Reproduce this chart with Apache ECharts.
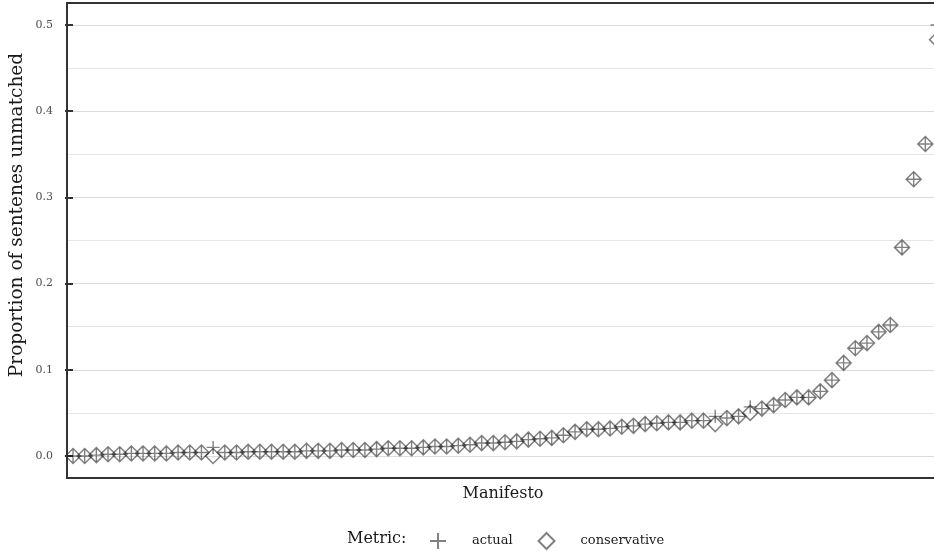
<!DOCTYPE html>
<html>
<head>
<meta charset="utf-8">
<script src="https://cdn.jsdelivr.net/npm/echarts@6/dist/echarts.min.js"></script>
<style>
  html, body { margin: 0; padding: 0; background: #ffffff; }
  #chart { width: 934px; height: 551px; }
</style>
</head>
<body>
<div id="chart"></div>
<script>
// Manifestos, ordered by share of unmatched sentences
const manifestoIndex = Array.from({ length: 75 }, (_, i) => i);

const actualValues = [
  0.000, 0.000, 0.001, 0.002, 0.002, 0.003, 0.003, 0.003, 0.003, 0.004,
  0.004, 0.004, 0.010, 0.004, 0.004, 0.005, 0.005, 0.005, 0.005, 0.005,
  0.006, 0.006, 0.006, 0.007, 0.007, 0.007, 0.008, 0.009, 0.009, 0.009,
  0.010, 0.011, 0.011, 0.012, 0.013, 0.015, 0.015, 0.016, 0.017, 0.019,
  0.020, 0.021, 0.024, 0.028, 0.031, 0.031, 0.032, 0.034, 0.035, 0.037,
  0.038, 0.039, 0.039, 0.041, 0.041, 0.046, 0.044, 0.046, 0.057, 0.055,
  0.059, 0.065, 0.068, 0.068, 0.075, 0.088, 0.108, 0.125, 0.131, 0.144,
  0.152, 0.242, 0.321, 0.362, 0.500
];

const conservativeValues = [
  0.000, 0.000, 0.001, 0.002, 0.002, 0.003, 0.003, 0.003, 0.003, 0.004,
  0.004, 0.004, 0.000, 0.004, 0.004, 0.005, 0.005, 0.005, 0.005, 0.005,
  0.006, 0.006, 0.006, 0.007, 0.007, 0.007, 0.008, 0.009, 0.009, 0.009,
  0.010, 0.011, 0.011, 0.012, 0.013, 0.015, 0.015, 0.016, 0.017, 0.019,
  0.020, 0.021, 0.024, 0.028, 0.031, 0.031, 0.032, 0.034, 0.035, 0.037,
  0.038, 0.039, 0.039, 0.041, 0.041, 0.037, 0.044, 0.046, 0.050, 0.055,
  0.059, 0.065, 0.068, 0.068, 0.075, 0.088, 0.108, 0.125, 0.131, 0.144,
  0.152, 0.242, 0.321, 0.362, 0.483
];

const yTicks = [0.0, 0.1, 0.2, 0.3, 0.4, 0.5];

const FONT = '"DejaVu Serif", "Liberation Serif", serif';
const plusPath = 'path://M0,7L14,7M7,0L7,14';
const markStroke = 'rgba(0,0,0,0.62)';

// The panel runs a little past the right edge of the canvas, so the visible
// part of the x range stops short of the last manifesto's slot.
const X_MIN = -0.6;
const X_VISIBLE_MAX = 73.74;

const chart = echarts.init(document.getElementById('chart'), null, { renderer: 'canvas' });

chart.setOption({
  animation: false,
  backgroundColor: '#ffffff',
  grid: { left: 66, top: 25, right: 0, height: 431, containLabel: false },
  xAxis: {
    type: 'value',
    min: X_MIN,
    max: X_VISIBLE_MAX,
    axisLine: { show: false },
    axisTick: { show: false },
    axisLabel: { show: false },
    splitLine: { show: false }
  },
  yAxis: {
    type: 'value',
    min: yTicks[0],
    max: yTicks[yTicks.length - 1],
    interval: 0.1,
    axisLine: { show: false },
    axisTick: { show: true, length: 8, lineStyle: { color: '#333333', width: 2 } },
    axisLabel: {
      margin: 13,
      fontFamily: FONT,
      fontSize: 11,
      color: '#4d4d4d',
      formatter: v => v.toFixed(1)
    },
    splitLine: { show: true, lineStyle: { color: '#dcdcdc', width: 1 } },
    minorTick: { show: false, splitNumber: 2 },
    minorSplitLine: { show: true, lineStyle: { color: '#e6e6e6', width: 1 } }
  },
  legend: {
    left: 424,
    top: 527,
    itemWidth: 16,
    itemHeight: 16,
    itemGap: 25,
    textStyle: { fontFamily: FONT, fontSize: 13, color: '#1a1a1a', padding: [0, 0, 0, 21] },
    data: ['actual', 'conservative']
  },
  series: [
    {
      name: 'conservative',
      type: 'scatter',
      clip: false,
      symbol: 'diamond',
      symbolSize: 15,
      itemStyle: { color: 'transparent', borderColor: markStroke, borderWidth: 1.5 },
      data: manifestoIndex.map(i => [i, conservativeValues[i]])
    },
    {
      name: 'actual',
      type: 'scatter',
      clip: false,
      symbol: plusPath,
      symbolSize: 13,
      itemStyle: { color: 'transparent', borderColor: markStroke, borderWidth: 1.4 },
      data: manifestoIndex.map(i => [i, actualValues[i]])
    }
  ],
  graphic: [
    {
      type: 'rect',
      z: 100,
      silent: true,
      shape: { x: 67, y: 3, width: 877, height: 475 },
      style: { fill: 'none', stroke: '#333333', lineWidth: 2 }
    },
    {
      type: 'text',
      x: 17,
      y: 215,
      rotation: Math.PI / 2,
      style: {
        text: 'Proportion of sentenes unmatched',
        font: '18.5px ' + FONT,
        fill: '#1a1a1a',
        align: 'center',
        verticalAlign: 'middle'
      }
    },
    {
      type: 'text',
      x: 503,
      y: 494,
      style: {
        text: 'Manifesto',
        font: '16px ' + FONT,
        fill: '#1a1a1a',
        align: 'center',
        verticalAlign: 'middle'
      }
    },
    {
      type: 'text',
      x: 347,
      y: 539,
      style: {
        text: 'Metric:',
        font: '16px ' + FONT,
        fill: '#1a1a1a',
        align: 'left',
        verticalAlign: 'middle'
      }
    }
  ]
});
</script>
</body>
</html>
